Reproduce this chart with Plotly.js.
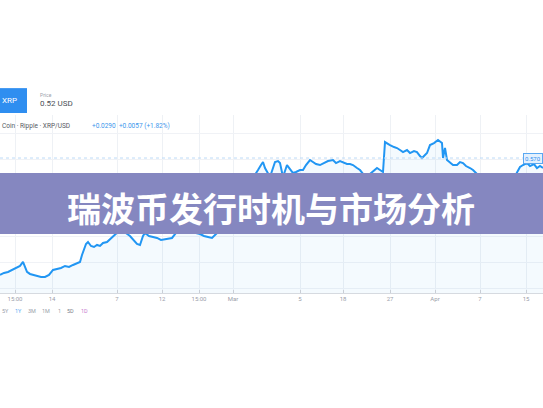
<!DOCTYPE html>
<html>
<head>
<meta charset="utf-8">
<script src="https://cdn.plot.ly/plotly-3.0.1.min.js"></script>
<style>
  html, body { margin: 0; padding: 0; background: #fff; }
  #chart { width: 543px; height: 408px; }
</style>
</head>
<body>
<div id="chart"></div>
<script>
// time index (sessions) and XRP price
var days = [0,4,8,12,16,20,23,25,27,30,
  33,37,41,45,49,53,57,61,65,69,
  73,77,80,82,84,86,88,91,94,97,
  100,103,107,110,113,117,120,123,126,130,
  134,137,140,143,145,149,153,157,161,165,
  169,172,176,180,184,188,192,196,200,204,
  208,212,216,220,224,228,232,236,240,244,
  248,252,255,258,261,263,265,267,270,273,
  275,278,280,283,285,287,290,293,296,300,
  303,306,310,313,316,320,324,328,333,336,
  340,343,347,350,353,357,360,364,367,370,
  374,377,380,383,385,388,390,394,397,400,
  403,407,410,414,417,420,422,425,427,430,
  434,438,440,442,443,445,447,450,453,457,
  460,463,466,470,473,476,480,483,487,490,
  492,495,498,500,503,507,510,514,517,520,
  523,527,530,534,537,540,543];

var price = [0.336,0.340,0.342,0.346,0.350,0.354,0.362,0.350,0.342,0.338,
  0.336,0.334,0.332,0.332,0.336,0.346,0.348,0.350,0.354,0.352,
  0.356,0.360,0.362,0.376,0.388,0.398,0.402,0.394,0.392,0.396,
  0.394,0.400,0.402,0.408,0.414,0.420,0.426,0.430,0.420,0.414,
  0.406,0.398,0.396,0.414,0.420,0.414,0.412,0.410,0.406,0.408,
  0.410,0.410,0.420,0.430,0.434,0.428,0.424,0.420,0.418,0.414,
  0.412,0.410,0.418,0.426,0.438,0.450,0.466,0.480,0.492,0.502,
  0.514,0.526,0.536,0.546,0.556,0.562,0.550,0.542,0.532,0.550,
  0.562,0.564,0.560,0.532,0.546,0.556,0.548,0.540,0.542,0.546,
  0.546,0.556,0.566,0.562,0.558,0.556,0.560,0.564,0.566,0.560,
  0.564,0.562,0.558,0.558,0.556,0.550,0.546,0.536,0.530,0.538,
  0.546,0.550,0.546,0.542,0.602,0.598,0.596,0.592,0.590,0.586,
  0.582,0.586,0.580,0.584,0.582,0.574,0.570,0.576,0.580,0.596,
  0.600,0.606,0.602,0.600,0.570,0.590,0.566,0.560,0.556,0.556,
  0.562,0.560,0.554,0.550,0.546,0.540,0.532,0.522,0.512,0.520,
  0.526,0.516,0.510,0.506,0.510,0.516,0.520,0.530,0.542,0.552,
  0.556,0.560,0.554,0.558,0.550,0.554,0.550];

var tickPos = [15,52,117,162,199,233,300,343,390,435,480,526];
var tickText = ['15:00','14','7','12','15:00','Mar','5','18','27','Apr','7','15'];

var lastPrice = 0.570;
var title = '瑞波币发行时机与市场分析';

var trace = {
  type: 'scatter',
  mode: 'lines',
  x: days,
  y: price,
  line: {color: '#2196f3', width: 2},
  fill: 'tozeroy',
  fillcolor: 'rgba(33,150,243,0.05)',
  hoverinfo: 'skip'
};

var small = function (txt, x, y, size, color, anchor) {
  return {
    text: txt, xref: 'paper', yref: 'paper', x: x, y: y,
    xanchor: anchor || 'left', yanchor: 'middle', showarrow: false,
    font: {family: 'Roboto, Arial', size: size, color: color}
  };
};

var layout = {
  width: 543,
  height: 408,
  margin: {l: 0, r: 0, t: 0, b: 0},
  paper_bgcolor: '#ffffff',
  plot_bgcolor: '#ffffff',
  showlegend: false,
  xaxis: {
    domain: [0, 1],
    range: [0, 543],
    tickvals: tickPos,
    ticktext: tickText,
    tickfont: {family: 'Roboto, Arial', size: 6, color: '#9aa0aa'},
    ticks: 'inside',
    ticklen: 3,
    tickcolor: '#c9ced6',
    showgrid: true,
    gridcolor: '#eef1f5',
    showline: true,
    linecolor: '#d6dae0',
    zeroline: false,
    fixedrange: true
  },
  yaxis: {
    domain: [0.282, 0.718],
    range: [0.30, 0.656],
    tick0: 0.36,
    dtick: 0.052,
    showticklabels: false,
    showgrid: true,
    gridcolor: '#f0f2f6',
    zeroline: false,
    fixedrange: true
  },
  shapes: [
    // last price line
    {type: 'line', xref: 'paper', yref: 'y', x0: 0, x1: 1, y0: lastPrice, y1: lastPrice,
     line: {color: '#bcdaf7', width: 1, dash: 'dot'}},
    // symbol button
    {type: 'rect', xref: 'paper', yref: 'paper', x0: 0, x1: 0.0497, y0: 0.723, y1: 0.784,
     fillcolor: '#2f8ef0', line: {width: 0}},
    // title banner
    {type: 'rect', xref: 'paper', yref: 'paper', x0: 0, x1: 1, y0: 0.4265, y1: 0.576,
     fillcolor: '#8587c0', line: {width: 0}, layer: 'above'}
  ],
  annotations: [
    {text: title, xref: 'paper', yref: 'paper', x: 0.499, y: 0.4926,
     xanchor: 'center', yanchor: 'middle', showarrow: false,
     font: {family: '"Noto Sans CJK SC", "Noto Sans", sans-serif', size: 34,
            color: '#ffffff', weight: 'bold'}},
    {text: lastPrice.toFixed(3), xref: 'paper', yref: 'y', x: 1, y: lastPrice,
     xanchor: 'right', yanchor: 'middle', showarrow: false,
     font: {family: 'Roboto, Arial', size: 6, color: '#2f8ef0'},
     bgcolor: '#e3f0fd', bordercolor: '#5aa8f2', borderwidth: 1, borderpad: 1},
    small('XRP', 0.018, 0.7535, 8, '#ffffff', 'center'),
    small('Price', 0.07, 0.768, 5, '#9aa0aa'),
    small('0.52 USD', 0.07, 0.746, 8, '#4a4f57'),
    small('Coin · Ripple · XRP/USD', 0, 0.692, 6.5, '#555a62'),
    small('+0.0290  +0.0057 (+1.82%)', 0.166, 0.692, 6.5, '#3c96ec'),
    small('5Y', 0, 0.238, 5.5, '#9aa0aa'),
    small('1Y', 0.024, 0.238, 5.5, '#5aa8f2'),
    small('3M', 0.048, 0.238, 5.5, '#9aa0aa'),
    small('1M', 0.074, 0.238, 5.5, '#9aa0aa'),
    small('1', 0.103, 0.238, 5.5, '#9aa0aa'),
    small('5D', 0.12, 0.238, 5.5, '#7d828b'),
    small('1D', 0.145, 0.238, 5.5, '#c77ccf')
  ]
};

Plotly.newPlot('chart', [trace], layout, {displayModeBar: false, staticPlot: true});
</script>
</body>
</html>
